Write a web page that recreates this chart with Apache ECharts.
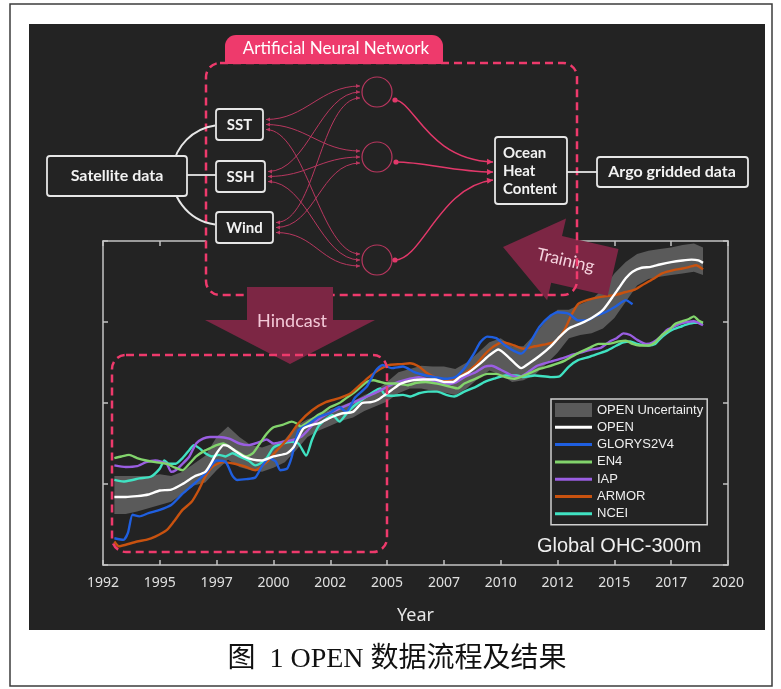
<!DOCTYPE html>
<html>
<head>
<meta charset="utf-8">
<script src="https://cdn.jsdelivr.net/npm/echarts@6/dist/echarts.min.js"></script>
<style>
  html, body { margin: 0; padding: 0; background: #fff; }
  #chart { width: 781px; height: 689px; }
</style>
</head>
<body>
<div id="chart"></div>
<script>
// ---------------- data ----------------
const legendNames = ['OPEN Uncertainty', 'OPEN', 'GLORYS2V4', 'EN4', 'IAP', 'ARMOR', 'NCEI'];
const xTickMin = 1992.5, xTickMax = 2020, xTickStep = 2.5;

// OPEN uncertainty envelope
const bandYears = [1993, 1993.5, 1994, 1994.5, 1995, 1995.5, 1996, 1996.5, 1997, 1997.5, 1998, 1998.5, 1999, 1999.5,
  2000, 2000.5, 2001, 2001.5, 2002, 2002.5, 2003, 2003.5, 2004, 2004.5, 2005, 2005.5, 2006, 2006.5, 2007, 2007.5,
  2008, 2008.5, 2009, 2009.5, 2010, 2010.5, 2011, 2011.5, 2012, 2012.5, 2013, 2013.5, 2014, 2014.5, 2015, 2015.5,
  2016, 2016.5, 2017, 2017.5, 2018, 2018.5, 2018.9];
const bandLow = [0.63, 0.63, 0.66, 0.70, 0.74, 0.78, 0.88, 0.98, 1.02, 1.17, 1.30, 1.21, 1.17, 1.15,
  1.20, 1.27, 1.42, 1.58, 1.66, 1.72, 1.78, 1.82, 1.90, 1.96, 2.02, 2.12, 2.18, 2.18, 2.15, 2.13,
  2.10, 2.18, 2.30, 2.40, 2.35, 2.26, 2.28, 2.35, 2.48, 2.62, 2.80, 2.84, 2.86, 2.92, 3.05, 3.25,
  3.45, 3.53, 3.56, 3.58, 3.60, 3.62, 3.58];
const bandHigh = [1.10, 1.10, 1.10, 1.10, 1.12, 1.10, 1.15, 1.25, 1.35, 1.58, 1.71, 1.58, 1.48, 1.45,
  1.50, 1.55, 1.72, 1.80, 1.85, 1.92, 1.97, 2.02, 2.10, 2.15, 2.26, 2.38, 2.42, 2.46, 2.45, 2.45,
  2.42, 2.50, 2.62, 2.75, 2.80, 2.70, 2.70, 2.85, 3.02, 3.15, 3.15, 3.22, 3.28, 3.40, 3.60, 3.74,
  3.84, 3.88, 3.90, 3.92, 3.95, 3.97, 3.92];

const openPts = [[1993.0,0.84],[1993.5,0.84],[1994.0,0.85],[1994.5,0.87],[1995.0,0.92],[1995.5,0.93],[1996.0,1.00],
  [1996.5,1.09],[1997.0,1.15],[1997.3,1.28],[1997.5,1.38],[1997.8,1.48],[1998.0,1.47],[1998.3,1.41],[1998.7,1.34],
  [1999.1,1.30],[1999.5,1.29],[2000.0,1.34],[2000.6,1.38],[2000.9,1.46],[2001.3,1.68],[2001.7,1.73],[2002.0,1.75],
  [2002.6,1.83],[2003.0,1.87],[2003.5,1.89],[2003.9,2.00],[2004.3,2.01],[2004.6,2.04],[2004.9,2.10],[2005.2,2.16],
  [2005.6,2.24],[2006.1,2.28],[2006.6,2.29],[2007.1,2.29],[2007.5,2.26],[2007.9,2.26],[2008.2,2.32],[2008.6,2.38],
  [2009.1,2.49],[2009.5,2.59],[2009.9,2.66],[2010.4,2.55],[2010.9,2.43],[2011.3,2.50],[2011.7,2.58],[2012.2,2.70],
  [2012.6,2.82],[2013.0,2.92],[2013.5,2.98],[2014.0,3.05],[2014.5,3.15],[2014.9,3.30],[2015.2,3.42],[2015.5,3.54],
  [2015.8,3.62],[2016.2,3.67],[2016.6,3.68],[2017.0,3.71],[2017.5,3.74],[2018.0,3.76],[2018.4,3.77],[2018.7,3.76],
  [2018.9,3.73]];

const glorysPts = [[1993.0,0.33],[1993.4,0.31],[1993.6,0.40],[1993.8,0.62],[1994.1,0.60],[1994.5,0.64],[1995.0,0.68],
  [1995.5,0.74],[1996.0,0.88],[1996.5,1.00],[1997.0,1.13],[1997.5,1.29],[1997.9,1.27],[1998.2,1.10],[1998.4,1.05],
  [1998.8,1.06],[1999.2,1.08],[1999.5,1.22],[1999.8,1.32],[2000.1,1.28],[2000.3,1.17],[2000.6,1.19],[2000.8,1.33],
  [2001.1,1.66],[2001.5,1.73],[2002.0,1.83],[2002.5,1.88],[2002.9,1.95],[2003.2,1.89],[2003.6,2.07],[2004.1,2.20],
  [2004.5,2.40],[2004.8,2.47],[2005.2,2.43],[2005.7,2.45],[2006.2,2.38],[2006.7,2.34],[2007.1,2.32],[2007.5,2.30],
  [2008.0,2.32],[2008.4,2.43],[2008.8,2.60],[2009.1,2.75],[2009.4,2.82],[2009.8,2.80],[2010.2,2.71],[2010.6,2.64],
  [2010.9,2.61],[2011.2,2.70],[2011.7,2.94],[2012.2,3.08],[2012.5,3.12],[2013.0,3.10],[2013.4,3.02],[2013.8,3.02],
  [2014.2,3.08],[2014.6,3.12],[2015.1,3.20],[2015.5,3.27],[2015.8,3.22]];

const en4Pts = [[1993.0,1.32],[1993.3,1.34],[1993.65,1.36],[1994.0,1.32],[1994.4,1.29],[1994.8,1.27],[1995.3,1.25],
  [1995.6,1.21],[1996.0,1.17],[1996.3,1.25],[1996.6,1.34],[1996.9,1.40],[1997.2,1.44],[1997.5,1.48],[1997.8,1.50],
  [1998.05,1.46],[1998.4,1.40],[1998.8,1.34],[1999.1,1.38],[1999.4,1.50],[1999.7,1.62],[2000.0,1.70],[2000.4,1.73],
  [2000.8,1.77],[2001.0,1.75],[2001.2,1.71],[2001.5,1.76],[2001.9,1.84],[2002.2,1.89],[2002.5,1.95],[2002.9,2.00],
  [2003.2,2.06],[2003.6,2.14],[2004.1,2.26],[2004.4,2.28],[2004.7,2.26],[2005.0,2.24],[2005.4,2.24],[2005.9,2.22],
  [2006.3,2.25],[2006.7,2.26],[2007.2,2.24],[2007.8,2.20],[2008.1,2.18],[2008.4,2.24],[2008.9,2.30],[2009.4,2.36],
  [2009.8,2.36],[2010.2,2.32],[2010.6,2.30],[2011.2,2.36],[2011.7,2.42],[2012.2,2.46],[2012.8,2.52],[2013.3,2.60],
  [2013.9,2.68],[2014.3,2.73],[2014.7,2.73],[2015.2,2.76],[2015.5,2.77],[2015.8,2.73],[2016.1,2.71],[2016.5,2.71],
  [2016.8,2.75],[2017.1,2.84],[2017.4,2.90],[2017.7,2.98],[2018.0,3.01],[2018.3,3.04],[2018.5,3.07],[2018.7,3.02],
  [2018.9,2.99]];

const iapPts = [[1993.0,1.23],[1993.5,1.21],[1994.0,1.22],[1994.4,1.27],[1994.8,1.29],[1995.3,1.25],[1995.5,1.15],
  [1995.7,1.17],[1996.0,1.25],[1996.3,1.34],[1996.6,1.50],[1996.9,1.56],[1997.2,1.58],[1997.6,1.58],[1998.05,1.56],
  [1998.5,1.50],[1998.9,1.48],[1999.4,1.52],[1999.7,1.55],[2000.0,1.50],[2000.4,1.52],[2000.8,1.54],[2001.2,1.58],
  [2001.5,1.66],[2001.9,1.78],[2002.4,1.87],[2002.9,1.93],[2003.3,1.98],[2003.7,2.03],[2004.2,2.09],[2004.6,2.14],
  [2005.0,2.20],[2005.5,2.26],[2006.0,2.30],[2006.4,2.32],[2006.8,2.29],[2007.2,2.26],[2007.6,2.23],[2008.0,2.25],
  [2008.4,2.32],[2008.9,2.38],[2009.3,2.45],[2009.6,2.46],[2010.0,2.41],[2010.5,2.34],[2010.8,2.32],[2011.2,2.38],
  [2011.6,2.46],[2012.2,2.51],[2012.8,2.56],[2013.2,2.60],[2013.6,2.63],[2014.0,2.66],[2014.4,2.68],[2014.8,2.76],
  [2015.1,2.80],[2015.4,2.86],[2015.7,2.84],[2016.0,2.78],[2016.4,2.73],[2016.7,2.75],[2017.0,2.81],[2017.3,2.90],
  [2017.6,2.94],[2017.9,2.98],[2018.2,3.00],[2018.5,3.01],[2018.9,2.96]];

const armorPts = [[1993.0,0.29],[1993.2,0.23],[1993.5,0.25],[1994.0,0.29],[1994.4,0.31],[1994.8,0.35],[1995.3,0.43],
  [1995.6,0.53],[1996.0,0.68],[1996.4,0.78],[1996.7,0.92],[1997.0,1.09],[1997.3,1.21],[1997.75,1.27],[1998.3,1.25],
  [1998.8,1.21],[1999.2,1.17],[1999.7,1.27],[2000.1,1.40],[2000.6,1.55],[2001.1,1.75],[2001.7,1.91],[2002.3,2.01],
  [2002.9,2.06],[2003.4,2.12],[2003.8,2.22],[2004.2,2.32],[2004.7,2.42],[2005.1,2.47],[2005.6,2.48],[2006.0,2.49],
  [2006.4,2.45],[2006.7,2.38],[2007.1,2.32],[2007.5,2.28],[2008.0,2.30],[2008.4,2.36],[2008.9,2.47],[2009.3,2.60],
  [2009.7,2.70],[2010.1,2.75],[2010.6,2.71],[2011.0,2.67],[2011.5,2.70],[2011.9,2.72],[2012.4,2.76],[2012.8,2.90],
  [2013.1,3.08],[2013.4,3.22],[2013.8,3.27],[2014.4,3.31],[2015.0,3.33],[2015.5,3.37],[2015.9,3.40],[2016.2,3.45],
  [2016.7,3.53],[2017.1,3.60],[2017.6,3.64],[2018.0,3.66],[2018.3,3.68],[2018.6,3.70],[2018.9,3.65]];

const nceiPts = [[1993.0,1.05],[1993.4,1.03],[1993.8,1.05],[1994.1,1.07],[1994.6,1.09],[1995.0,1.19],[1995.2,1.29],
  [1995.4,1.25],[1995.7,1.25],[1996.0,1.32],[1996.3,1.42],[1996.5,1.48],[1996.75,1.44],[1997.0,1.38],[1997.3,1.34],
  [1997.6,1.36],[1997.9,1.34],[1998.2,1.38],[1998.5,1.34],[1998.9,1.29],[1999.2,1.23],[1999.4,1.25],[1999.7,1.32],
  [2000.0,1.45],[2000.4,1.50],[2000.8,1.52],[2001.1,1.50],[2001.44,1.35],[2001.7,1.55],[2002.0,1.72],[2002.3,1.80],
  [2002.6,1.85],[2002.9,1.77],[2003.3,1.90],[2003.7,2.00],[2004.1,2.08],[2004.4,2.14],[2004.7,2.18],[2004.9,2.10],
  [2005.3,2.09],[2005.7,2.10],[2006.0,2.08],[2006.4,2.12],[2006.8,2.14],[2007.2,2.14],[2007.6,2.10],[2007.95,2.08],
  [2008.4,2.14],[2008.9,2.20],[2009.3,2.26],[2009.7,2.30],[2010.2,2.34],[2010.7,2.34],[2011.0,2.32],[2011.5,2.34],
  [2012.2,2.32],[2012.6,2.33],[2013.0,2.45],[2013.4,2.53],[2013.9,2.57],[2014.3,2.61],[2014.7,2.65],[2015.1,2.71],
  [2015.4,2.75],[2015.7,2.76],[2016.0,2.73],[2016.5,2.71],[2016.8,2.73],[2017.0,2.79],[2017.3,2.86],[2017.6,2.91],
  [2017.9,2.94],[2018.2,2.97],[2018.5,2.99],[2018.9,2.99]];

// ---------------- styling ----------------
const PANEL = '#232323';
const PINK = '#ee3a6c';
const NET = '#b8375f';
const NET_OUT = '#e2386a';
const MAROON = '#7c2644';
const BOXLINE = '#e6e6e6';
const AXIS = '#c4c4c4';
const colors = { band: '#5a5a5a', open: '#ffffff', glorys: '#1f5fe0', en4: '#82d46c',
                 iap: '#9a5ee2', armor: '#c8520f', ncei: '#40e2c2' };
// plain stroke used as legend key for the line series (37 x 14 box, 3 px bar)
const LINE_KEY = 'path://M0,0 M0,5.5 L37,5.5 L37,8.5 L0,8.5 Z M37,14';

const chart = echarts.init(document.getElementById('chart'), null, { renderer: 'canvas', width: 781, height: 689 });

// ---------------- diagram (graphic elements) ----------------
const gfx = [];
const boxFont = 'bold 15px Lato';

function box(x, y, w, h, z) {
  gfx.push({ type: 'rect', z: z, shape: { x: x, y: y, width: w, height: h, r: 3 },
             style: { fill: PANEL, stroke: BOXLINE, lineWidth: 1.8 } });
}
function label(text, x, y, font, fill, z, align, rot) {
  gfx.push({ type: 'text', z: z, x: x, y: y, rotation: rot || 0,
             style: { text: text, fill: fill, font: font, align: align || 'center', verticalAlign: 'middle' } });
}
function arrowHead(tx, ty, fx, fy, len, half, color, z) {
  const dx = tx - fx, dy = ty - fy, d = Math.hypot(dx, dy) || 1;
  const ux = dx / d, uy = dy / d, bx = tx - ux * len, by = ty - uy * len;
  gfx.push({ type: 'polygon', z: z, shape: { points: [[tx, ty], [bx - uy * half, by + ux * half], [bx + uy * half, by - ux * half]] },
             style: { fill: color } });
}
function curve(p0, c1, c2, p3, color, width, z) {
  gfx.push({ type: 'bezierCurve', z: z,
             shape: { x1: p0[0], y1: p0[1], cpx1: c1[0], cpy1: c1[1], cpx2: c2[0], cpy2: c2[1], x2: p3[0], y2: p3[1] },
             style: { stroke: color, lineWidth: width, fill: 'none' } });
}

// page frame and dark panel
gfx.push({ type: 'rect', z: -10, shape: { x: 10, y: 4, width: 762, height: 682 }, style: { fill: '#fff', stroke: '#3c3c3c', lineWidth: 1.5 } });
gfx.push({ type: 'rect', z: -9, shape: { x: 29, y: 24, width: 736, height: 606 }, style: { fill: PANEL } });

// neural network frame
gfx.push({ type: 'rect', z: 20, shape: { x: 206, y: 63, width: 371, height: 232, r: 14 }, style: { fill: PANEL } });

// training arrow (rotated, pointing left)
(function () {
  const th = 13 * Math.PI / 180, c = Math.cos(th), s = Math.sin(th), ox = 503, oy = 247;
  const local = [[0, 0], [55, -42], [55, -24], [113, -24], [113, 24], [55, 24], [55, 42]];
  const pts = local.map(p => [ox + p[0] * c - p[1] * s, oy + p[0] * s + p[1] * c]);
  gfx.push({ type: 'polygon', z: 25, shape: { points: pts }, style: { fill: MAROON } });
  const lx = 64, ly = -1;
  label('Training', ox + lx * c - ly * s, oy + lx * s + ly * c, '17px Lato', '#f5d3de', 26, 'center', -th);
})();

gfx.push({ type: 'rect', z: 30, shape: { x: 206, y: 63, width: 371, height: 232, r: 14 },
           style: { fill: 'none', stroke: PINK, lineWidth: 2.5, lineDash: [8, 5] } });
gfx.push({ type: 'rect', z: 31, shape: { x: 225, y: 35, width: 218, height: 29, r: [11, 11, 0, 0] }, style: { fill: PINK } });
label('Artificial Neural Network', 336, 49, '17px Lato', '#ffffff', 32);

// hindcast arrow and hindcast window
gfx.push({ type: 'polygon', z: 35, shape: { points: [[247, 287], [333, 287], [333, 320], [375, 320], [290, 364], [205, 320], [247, 320]] },
           style: { fill: MAROON } });
label('Hindcast', 292, 321, '18px Lato', '#f3c8d7', 36);
gfx.push({ type: 'rect', z: 37, shape: { x: 112, y: 355, width: 275, height: 197, r: 14 },
           style: { fill: 'none', stroke: PINK, lineWidth: 2.5, lineDash: [8, 5] } });

// inputs, hidden nodes, output
const inputs = [
  { text: 'SST', x: 216, y: 109, w: 47, h: 31 },
  { text: 'SSH', x: 216, y: 161, w: 49, h: 31 },
  { text: 'Wind', x: 216, y: 212, w: 57, h: 31 }
];
const hidden = [[377, 92], [377, 157], [377, 260]];
const NR = 15;

// satellite branch
gfx.push({ type: 'arc', z: 40, shape: { cx: 222, cy: 175, r: 50, startAngle: 98 * Math.PI / 180, endAngle: 262 * Math.PI / 180, clockwise: true },
           style: { stroke: BOXLINE, lineWidth: 2, fill: 'none' } });
gfx.push({ type: 'line', z: 40, shape: { x1: 187, y1: 175, x2: 216, y2: 175 }, style: { stroke: BOXLINE, lineWidth: 1.8 } });
box(47, 156, 140, 40, 41);
label('Satellite data', 117, 176, 'bold 16px Lato', '#f2f2f2', 42);

// input -> hidden connections
inputs.forEach((inp, i) => {
  hidden.forEach((h, j) => {
    const p0 = [inp.x + inp.w + 3, inp.y + inp.h / 2 + (j - 1) * 5];
    const p3 = [h[0] - NR - 2, h[1] + (i - 1) * 6];
    const c1 = [p0[0] + 40, p0[1]], c2 = [p3[0] - 40, p3[1]];
    curve(p0, c1, c2, p3, NET, 1, 40);
    arrowHead(p3[0], p3[1], c2[0], c2[1], 4, 2, NET, 40);
    arrowHead(p0[0], p0[1], c1[0], c1[1], 4, 2, NET, 40);
  });
});
inputs.forEach(inp => {
  box(inp.x, inp.y, inp.w, inp.h, 41);
  label(inp.text, inp.x + inp.w / 2, inp.y + inp.h / 2 + 0.5, boxFont, '#f2f2f2', 42);
});
hidden.forEach(h => {
  gfx.push({ type: 'circle', z: 41, shape: { cx: h[0], cy: h[1], r: NR }, style: { fill: PANEL, stroke: NET, lineWidth: 1.2 } });
});

// hidden -> ocean heat content
const outLinks = [
  { p0: [395, 100], c1: [414, 101], c2: [428, 160], p3: [493, 162] },
  { p0: [396, 162], c1: [425, 162], c2: [455, 172], p3: [493, 172] },
  { p0: [395, 260], c1: [422, 260], c2: [440, 186], p3: [493, 180] }
];
outLinks.forEach(l => {
  curve(l.p0, l.c1, l.c2, l.p3, NET_OUT, 1.5, 40);
  arrowHead(l.p3[0], l.p3[1], l.c2[0], l.c2[1], 6, 3, NET_OUT, 40);
  gfx.push({ type: 'circle', z: 41, shape: { cx: l.p0[0], cy: l.p0[1], r: 2.6 }, style: { fill: NET_OUT } });
});
box(495, 137, 72, 67, 41);
label('Ocean', 503, 153, boxFont, '#f2f2f2', 42, 'left');
label('Heat', 503, 171, boxFont, '#f2f2f2', 42, 'left');
label('Content', 503, 189, boxFont, '#f2f2f2', 42, 'left');
gfx.push({ type: 'line', z: 40, shape: { x1: 567, y1: 172, x2: 597, y2: 172 }, style: { stroke: BOXLINE, lineWidth: 1.8 } });
box(597, 157, 151, 30, 41);
label('Argo gridded data', 672, 172, 'bold 16px Lato', '#f2f2f2', 42);

// panel titles
label('Global OHC-300m', 537, 546, '20px "Liberation Sans"', '#eeeeee', 5, 'left');
label('图  1 OPEN 数据流程及结果', 397, 660, '28px "Liberation Serif", "Noto Sans CJK SC"', '#111111', 5);

// ---------------- chart ----------------
function lineSeries(name, pts, color, z) {
  return { name: name, type: 'line', data: pts, showSymbol: false, symbol: 'none', smooth: 0.2, z: z,
           lineStyle: { color: color, width: 2.4 }, itemStyle: { color: color }, silent: true };
}

const bandSeries = {
  name: 'OPEN Uncertainty', type: 'custom', z: 1, silent: true,
  itemStyle: { color: colors.band },
  data: bandYears.map((y, i) => [y, bandLow[i], bandHigh[i]]),
  renderItem: function (params, api) {
    if (params.dataIndex !== 0) return null;
    const upper = bandYears.map((y, i) => api.coord([y, bandHigh[i]]));
    const lower = bandYears.map((y, i) => api.coord([y, bandLow[i]])).reverse();
    return { type: 'polygon', shape: { points: upper.concat(lower) }, style: { fill: colors.band } };
  }
};

const axisLine = { show: true, onZero: false, lineStyle: { color: AXIS, width: 1.5 } };
const axisTick = { show: true, inside: true, length: 5, lineStyle: { color: AXIS, width: 1.5 } };

const option = {
  backgroundColor: '#ffffff',
  animation: false,
  graphic: { elements: gfx },
  grid: { left: 103, top: 241, width: 625, height: 324 },
  legend: {
    orient: 'vertical', left: 551, top: 399, z: 6,
    backgroundColor: PANEL, borderColor: '#d0d0d0', borderWidth: 1.5, borderRadius: 0,
    padding: [4, 4, 4, 4], itemGap: 3.3, itemWidth: 37, itemHeight: 14, itemTextGap: 3,
    selectedMode: false,
    textStyle: { color: '#eeeeee', fontSize: 13, fontFamily: 'Liberation Sans' },
    data: [{ name: legendNames[0], icon: 'rect', itemStyle: { borderWidth: 0 } }].concat(
      legendNames.slice(1).map(n => ({ name: n, icon: LINE_KEY, itemStyle: { borderWidth: 0 } })))
  },
  xAxis: [
    { type: 'value', position: 'bottom', min: xTickMin, max: xTickMax, interval: xTickStep,
      axisLine: axisLine, axisTick: axisTick, splitLine: { show: false },
      axisLabel: { color: '#e0e0e0', fontSize: 14, fontFamily: 'Noto Sans', margin: 11,
                   formatter: v => String(Math.floor(v + 1e-6)) },
      name: 'Year', nameLocation: 'middle', nameGap: 42,
      nameTextStyle: { color: '#e6e6e6', fontSize: 18, fontFamily: 'Noto Sans' } },
    { type: 'value', position: 'top', min: xTickMin, max: xTickMax, interval: xTickStep,
      axisLine: axisLine, axisTick: axisTick, splitLine: { show: false }, axisLabel: { show: false } }
  ],
  yAxis: [
    { type: 'value', position: 'left', min: 0, max: 4, interval: 1,
      axisLine: axisLine, axisTick: axisTick, splitLine: { show: false }, axisLabel: { show: false } },
    { type: 'value', position: 'right', min: 0, max: 4, interval: 1,
      axisLine: axisLine, axisTick: axisTick, splitLine: { show: false }, axisLabel: { show: false } }
  ],
  series: [
    bandSeries,
    lineSeries('NCEI', nceiPts, colors.ncei, 2),
    lineSeries('IAP', iapPts, colors.iap, 2),
    lineSeries('EN4', en4Pts, colors.en4, 2),
    lineSeries('ARMOR', armorPts, colors.armor, 2),
    lineSeries('GLORYS2V4', glorysPts, colors.glorys, 2),
    lineSeries('OPEN', openPts, colors.open, 3)
  ]
};

chart.setOption(option);
</script>
</body>
</html>
